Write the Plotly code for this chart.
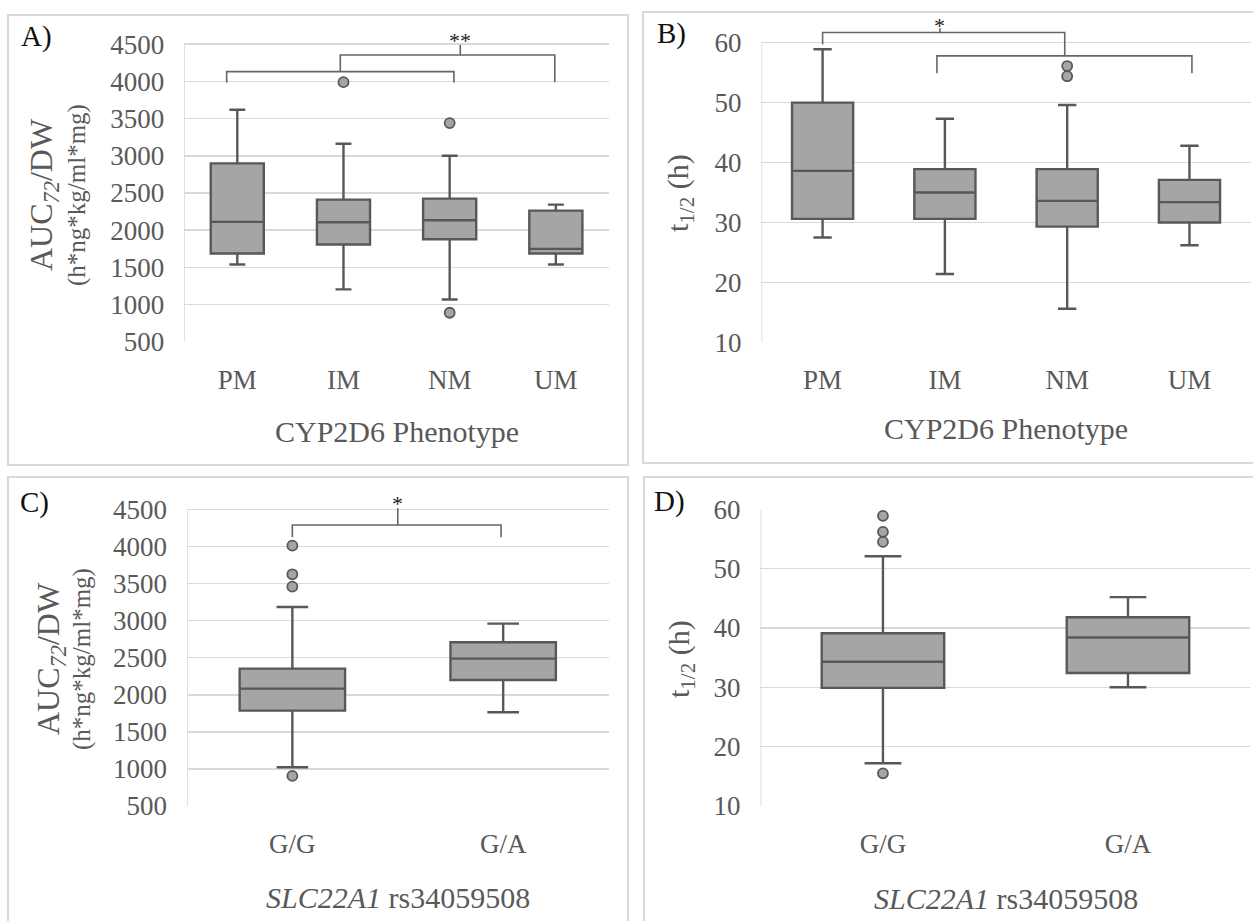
import plotly.graph_objects as go

W, H = 1253, 921

# ---------------- data ----------------
cyp_categories = ["PM", "IM", "NM", "UM"]
slc_categories = ["G/G", "G/A"]

# Panel A: AUC72/DW by CYP2D6 phenotype
auc_cyp_lower = [1538, 1203, 1068, 1538]
auc_cyp_q1 = [1686, 1807, 1878, 1686]
auc_cyp_median = [2111, 2106, 2133, 1748]
auc_cyp_q3 = [2898, 2411, 2424, 2263]
auc_cyp_upper = [3619, 3162, 3001, 2343]
auc_cyp_outlier_cat = [1, 2, 2]
auc_cyp_outlier_val = [3990, 3440, 889]

# Panel B: t1/2 by CYP2D6 phenotype
t_cyp_lower = [27.5, 21.4, 15.6, 26.2]
t_cyp_q1 = [30.6, 30.6, 29.3, 30.0]
t_cyp_median = [38.6, 35.0, 33.6, 33.4]
t_cyp_q3 = [50.0, 38.9, 38.9, 37.1]
t_cyp_upper = [58.9, 47.3, 49.6, 42.8]
t_cyp_outlier_cat = [2, 2]
t_cyp_outlier_val = [56.1, 54.4]

# Panel C: AUC72/DW by SLC22A1 rs34059508
auc_slc_lower = [1022, 1763]
auc_slc_q1 = [1786, 2199]
auc_slc_median = [2082, 2487]
auc_slc_q3 = [2352, 2707]
auc_slc_upper = [3183, 2959]
auc_slc_outlier_cat = [0, 0, 0, 0]
auc_slc_outlier_val = [4010, 3624, 3457, 905]

# Panel D: t1/2 by SLC22A1 rs34059508
t_slc_lower = [17.2, 30.0]
t_slc_q1 = [29.9, 32.4]
t_slc_median = [34.3, 38.4]
t_slc_q3 = [39.1, 41.8]
t_slc_upper = [52.1, 45.2]
t_slc_outlier_cat = [0, 0, 0, 0]
t_slc_outlier_val = [58.9, 56.2, 54.5, 15.5]

auc_ticks = [500, 1000, 1500, 2000, 2500, 3000, 3500, 4000, 4500]
t_ticks = [10, 20, 30, 40, 50, 60]

# significance brackets (category position, value)
sigA_brackets = [
    ([-0.1, -0.1, 2.04, 2.04], [3984, 4132, 4132, 3984]),
    ([0.97, 0.97, 2.99, 2.99], [4132, 4356, 4356, 3990]),
    ([2.1, 2.1], [4356, 4490]),
]
sigA_label = ("**", 2.1, 4545)
sigB_brackets = [
    ([0.0, 0.0, 1.98, 1.98], [59.7, 61.7, 61.7, 57.8]),
    ([0.935, 0.935, 3.02, 3.02], [54.9, 57.8, 57.8, 54.9]),
    ([0.96, 0.96], [61.7, 62.4]),
]
sigB_label = ("*", 0.96, 62.9)
sigC_brackets = [
    ([0.0, 0.0, 0.99, 0.99], [4123, 4288, 4288, 4123]),
    ([0.5, 0.5], [4288, 4513]),
]
sigC_label = ("*", 0.5, 4580)

# ---------------- style ----------------
FONT = "Liberation Serif"
TXT = "#595959"
BOX_FILL = "#a5a5a5"
BOX_LINE = "#585858"
GRID = "#d9d9d9"
BRACKET = "#666666"


def px(x):
    return x / W


def py(y):
    return 1 - y / H


fig = go.Figure()

panels = [
    dict(ax="", cats=cyp_categories, lo=auc_cyp_lower, q1=auc_cyp_q1, med=auc_cyp_median,
         q3=auc_cyp_q3, hi=auc_cyp_upper, oc=auc_cyp_outlier_cat, ov=auc_cyp_outlier_val,
         br=sigA_brackets, lab=sigA_label),
    dict(ax="2", cats=cyp_categories, lo=t_cyp_lower, q1=t_cyp_q1, med=t_cyp_median,
         q3=t_cyp_q3, hi=t_cyp_upper, oc=t_cyp_outlier_cat, ov=t_cyp_outlier_val,
         br=sigB_brackets, lab=sigB_label),
    dict(ax="3", cats=slc_categories, lo=auc_slc_lower, q1=auc_slc_q1, med=auc_slc_median,
         q3=auc_slc_q3, hi=auc_slc_upper, oc=auc_slc_outlier_cat, ov=auc_slc_outlier_val,
         br=sigC_brackets, lab=sigC_label),
    dict(ax="4", cats=slc_categories, lo=t_slc_lower, q1=t_slc_q1, med=t_slc_median,
         q3=t_slc_q3, hi=t_slc_upper, oc=t_slc_outlier_cat, ov=t_slc_outlier_val,
         br=[], lab=None),
]

for p in panels:
    xa, ya = "x" + p["ax"], "y" + p["ax"]
    pos = list(range(len(p["cats"])))
    fig.add_trace(go.Box(
        x=pos, q1=p["q1"], median=p["med"], q3=p["q3"],
        lowerfence=p["lo"], upperfence=p["hi"], orientation="v",
        width=0.5, whiskerwidth=0.3, boxpoints=False,
        fillcolor=BOX_FILL, line=dict(color=BOX_LINE, width=2.4),
        xaxis=xa, yaxis=ya, showlegend=False, hoverinfo="skip"))
    fig.add_trace(go.Scatter(
        x=p["oc"], y=p["ov"], mode="markers",
        marker=dict(size=10, color=BOX_FILL, line=dict(color=BOX_LINE, width=1.8)),
        xaxis=xa, yaxis=ya, showlegend=False, hoverinfo="skip", cliponaxis=False))
    for bx, by in p["br"]:
        fig.add_trace(go.Scatter(
            x=bx, y=by, mode="lines", line=dict(color=BRACKET, width=1.6),
            xaxis=xa, yaxis=ya, showlegend=False, hoverinfo="skip"))
    if p["lab"]:
        t, lx, ly = p["lab"]
        fig.add_annotation(text=t, x=lx, y=ly, xref=xa, yref=ya, showarrow=False,
                           xanchor="center", yanchor="middle",
                           font=dict(family=FONT, size=22, color="#222222"))


def xaxis_cfg(domain, cats, anchor):
    return dict(domain=domain, anchor=anchor, range=[-0.5, len(cats) - 0.5],
                tickmode="array", tickvals=list(range(len(cats))), ticktext=cats,
                showgrid=False, zeroline=False, showline=False, ticks="",
                ticklabelstandoff=19,
                tickfont=dict(family=FONT, size=27, color=TXT), fixedrange=True)


def yaxis_cfg(domain, rng, ticks, anchor):
    return dict(domain=domain, anchor=anchor, range=rng, tickmode="array",
                tickvals=ticks, ticktext=[str(t) for t in ticks],
                showgrid=True, gridcolor=GRID, gridwidth=1.6, zeroline=False,
                showline=False, ticks="", ticklabelstandoff=19,
                tickfont=dict(family=FONT, size=27, color=TXT), fixedrange=True)


fig.update_layout(
    width=W, height=H, margin=dict(l=0, r=0, t=0, b=0, pad=0),
    paper_bgcolor="white", plot_bgcolor="white", template="none",
    showlegend=False,
    xaxis=xaxis_cfg([0.1470, 0.4860], cyp_categories, "y"),
    yaxis=yaxis_cfg([0.6290, 0.9681], [500, 4700], auc_ticks, "x"),
    xaxis2=xaxis_cfg([0.6077, 0.9981], cyp_categories, "y2"),
    yaxis2=yaxis_cfg([0.6283, 0.9732], [10, 63], t_ticks, "x2"),
    xaxis3=xaxis_cfg([0.1492, 0.4857], slc_categories, "y3"),
    yaxis3=yaxis_cfg([0.1249, 0.4631], [500, 4700], auc_ticks, "x3"),
    xaxis4=xaxis_cfg([0.6069, 0.9980], slc_categories, "y4"),
    yaxis4=yaxis_cfg([0.1249, 0.4470], [10, 60], t_ticks, "x4"),
)

# left axis lines (only over the ticked range)
for ax, lo, hi in [("", 500, 4500), ("2", 10, 60), ("3", 500, 4500), ("4", 10, 60)]:
    fig.add_shape(type="line", xref="x" + ax, yref="y" + ax, x0=-0.5, x1=-0.5, y0=lo, y1=hi,
                  line=dict(color=GRID, width=1.6), layer="below")

# panel frames
frames = [(8, 15, 628, 465), (643, 12, 1262, 463), (8, 477, 628, 930), (644, 477, 1262, 930)]
for x0, y0, x1, y1 in frames:
    fig.add_shape(type="rect", xref="paper", yref="paper", x0=px(x0), x1=px(x1),
                  y0=py(y1), y1=py(y0), line=dict(color="#d9d9d9", width=2.2),
                  fillcolor="rgba(0,0,0,0)", layer="below")

# panel letters
for letter, x, y in [("A)", 19, 36), ("B)", 655, 33), ("C)", 18, 502), ("D)", 652, 501)]:
    fig.add_annotation(text=letter, x=px(x), y=py(y), xref="paper", yref="paper",
                       showarrow=False, xanchor="left", yanchor="middle",
                       font=dict(family=FONT, size=29, color="#111111"))

# y-axis titles (two-line AUC title as two rotated text lines)
auc_title_main = "AUC<sub><i>72</i></sub>/DW"
auc_title_unit = "(h*ng*kg/ml*mg)"
t_title = "t<sub>1/2</sub> (h)"
for text, size, x, y in [(auc_title_main, 32, 44, 195), (auc_title_unit, 25, 77, 195),
                         (auc_title_main, 32, 50, 659), (auc_title_unit, 25, 82, 659)]:
    fig.add_annotation(text=text, x=px(x), y=py(y), xref="paper", yref="paper",
                       showarrow=False, textangle=-90, xanchor="center", yanchor="middle",
                       font=dict(family=FONT, size=size, color=TXT))
for x, y in [(680, 193), (681, 659)]:
    fig.add_annotation(text=t_title, x=px(x), y=py(y), xref="paper", yref="paper",
                       showarrow=False, textangle=-90, xanchor="center", yanchor="middle",
                       font=dict(family=FONT, size=30, color=TXT))

x_titles = [("CYP2D6 Phenotype", 396.6, 431), ("CYP2D6 Phenotype", 1006, 428),
            ("<i>SLC22A1</i> rs34059508", 397.8, 897), ("<i>SLC22A1</i> rs34059508", 1005.6, 898)]
for text, x, y in x_titles:
    fig.add_annotation(text=text, x=px(x), y=py(y), xref="paper", yref="paper",
                       showarrow=False, xanchor="center", yanchor="middle",
                       font=dict(family=FONT, size=30, color=TXT))

fig.write_html("out.html", config={"displayModeBar": False, "staticPlot": True},
               post_script="document.body.style.margin='0';")
